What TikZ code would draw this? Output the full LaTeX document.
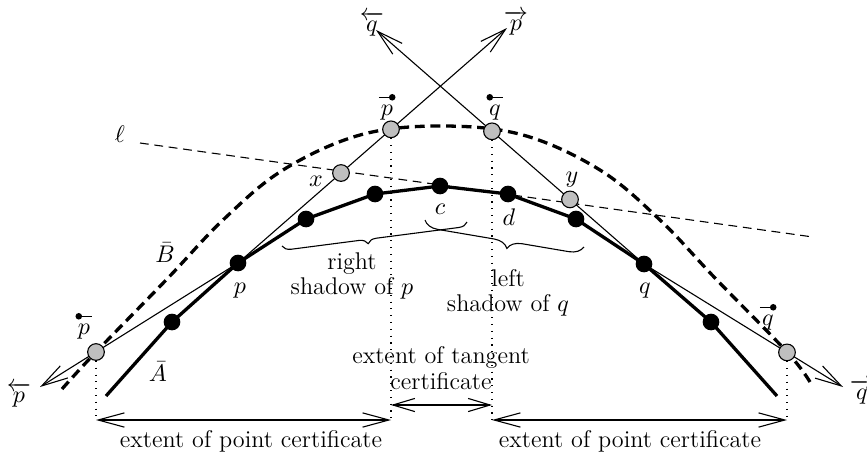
\documentclass[tikz,border=0pt]{standalone}
\usepackage{amsmath}
\usetikzlibrary{arrows.meta,decorations.pathreplacing,backgrounds}
\newcommand\bardotR[1]{\overset{\tikz{\draw[line width=0.4pt](0,0)--(0.55em,0);\fill(0.55em,0)circle[radius=1.5pt];}}{#1}}
\newcommand\bardotL[1]{\overset{\tikz{\draw[line width=0.4pt](0,0)--(0.55em,0);\fill(0,0)circle[radius=1.5pt];}}{#1}}
\begin{document}
\begin{tikzpicture}[x=0.016cm,y=-0.016cm,
  font=\fontsize{11}{11.5}\selectfont,
  thinline/.style={line width=0.5pt},
  curveA/.style={line width=1.5pt,line join=round},
  curveB/.style={line width=1.5pt,dash pattern=on 4.5pt off 2.6pt},
  lline/.style={line width=0.5pt,dash pattern=on 4pt off 2.6pt},
  vdot/.style={line width=0.5pt,dash pattern=on 0.5pt off 2.6pt},
  hd/.style={-{Straight Barb[length=12pt,width=6.5pt]}},
  dhd/.style={{Straight Barb[length=12pt,width=6.5pt]}-{Straight Barb[length=12pt,width=6.5pt]}},
  dhds/.style={{Straight Barb[length=10pt,width=6pt]}-{Straight Barb[length=10pt,width=6pt]}},
  bdot/.style={circle,fill=black,inner sep=0pt,minimum size=7.6pt},
  gdot/.style={circle,draw=black,line width=0.5pt,fill=black!25,inner sep=0pt,minimum size=7.6pt},
  brc/.style={decorate,line width=0.5pt}]
\useasboundingbox (0,0) rectangle (867,460);

% polygon A vertices
\coordinate (a0) at (106,396);
\node[bdot] (a1) at (172,322) {};
\node[bdot] (p) at (238,263) {};
\node[bdot] (a3) at (306,219) {};
\node[bdot] (a4) at (375,194) {};
\node[bdot] (c) at (440,186) {};
\node[bdot] (d) at (508,194) {};
\node[bdot] (a7) at (576,219) {};
\node[bdot] (q) at (644,264) {};
\node[bdot] (a9) at (711,322) {};
\coordinate (a10) at (777,396);

% gray points
\node[gdot] (x) at (341,173) {};
\node[gdot] (pt) at (391,129.3) {};
\node[gdot] (qt) at (492,131.3) {};
\node[gdot] (y) at (570,199.4) {};
\node[gdot] (pl) at (96,352) {};
\node[gdot] (qr) at (787,352.4) {};

% arrow tips and helper points
\coordinate (Tp) at (507,28);
\coordinate (Tq) at (376,30);
\coordinate (Tpl) at (40,387);
\coordinate (Tqr) at (843,387);
\coordinate (L1) at (140,143);
\coordinate (L2) at (813,237);
\coordinate (pb) at (96,420);
\coordinate (ptb) at (391,420);
\coordinate (qtb) at (492,420);
\coordinate (qb) at (787,420);
\coordinate (ptm) at (391,405);
\coordinate (qtm) at (492,405);

\begin{scope}[on background layer]
\draw[curveB] plot[smooth,tension=0.6] coordinates {(62,389) (96,352) (168,278) (223,220) (283,170) (360,135) (441,126) (523,135) (600,170) (660,220) (715,278) (787,352) (810,382)};
\draw[lline] (L1) -- (L2);
\draw[curveA] (a0) -- (a1.center) -- (p.center) -- (a3.center) -- (a4.center) -- (c.center) -- (d.center) -- (a7.center) -- (q.center) -- (a9.center) -- (a10);
\draw[thinline,hd] (p.center) -- (Tp);
\draw[thinline,hd] (q.center) -- (Tq);
\draw[thinline,hd] (p.center) -- (Tpl);
\draw[thinline,hd] (q.center) -- (Tqr);
\draw[vdot] (pl) -- (pb);
\draw[vdot] (pt) -- (ptb);
\draw[vdot] (qt) -- (qtb);
\draw[vdot] (qr) -- (qb);
\end{scope}

\draw[thinline,dhd] (pb) -- (ptb);
\draw[thinline,dhd] (qtb) -- (qb);
\draw[thinline,dhds] (ptm) -- (qtm);

% braces
\coordinate (b1s) at (282,246);
\coordinate (b1e) at (467,222);
\coordinate (b2s) at (425,220);
\coordinate (b2e) at (584,247);
\draw[brc,decoration={brace,mirror,amplitude=4pt,aspect=0.46}] (b1s) -- (b1e);
\draw[brc,decoration={brace,mirror,amplitude=6.5pt,aspect=0.53}] (b2s) -- (b2e);

% labels
\node (lTq) at (372,24) {$\overleftarrow{q}$};
\node (lTp) at (516,23) {$\overrightarrow{p}$};
\node (lpt) at (387,106) {$\bardotR{p}$};
\node (lqt) at (495,106) {$\bardotL{q}$};
\node (lpl) at (84,325) {$\bardotL{p}$};
\node (lqr) at (768,316) {$\bardotR{q}$};
\node (lTpl) at (19,395) {$\overleftarrow{p}$};
\node (lTqr) at (862,392) {$\overrightarrow{q}$};
\node (lell) at (120,134) {$\ell$};
\node (lx) at (316,181) {$x$};
\node (ly) at (572,180) {$y$};
\node (lc) at (440,209) {$c$};
\node (ld) at (509,217) {$d$};
\node (lp) at (240,291) {$p$};
\node (lq) at (645,291) {$q$};
\node (lB) at (165,253) {$\bar{B}$};
\node (lA) at (158,372) {$\bar{A}$};
\node[align=center] (rs) at (352,276) {right\\shadow of $p$};
\node[align=center] (ls) at (508,293) {left\\shadow of $q$};
\node[align=center] (tc) at (441,368) {extent of tangent\\certificate};
\node (pc1) at (251,441) {extent of point certificate};
\node (pc2) at (630,441) {extent of point certificate};
\end{tikzpicture}
\end{document}
